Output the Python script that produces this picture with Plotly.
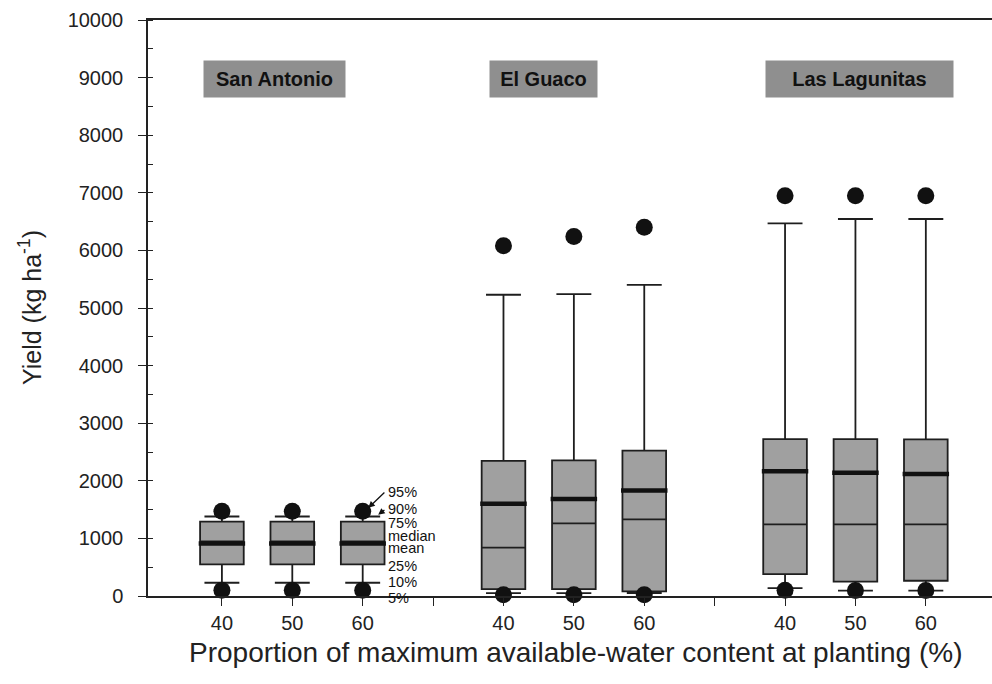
import plotly.graph_objects as go

# ---- data ----
sites = ["San Antonio", "El Guaco", "Las Lagunitas"]
water_levels = ["40", "50", "60"]
positions = [1, 2, 3, 5, 6, 7, 9, 10, 11]
p5 = [100, 100, 100, 20, 20, 20, 100, 95, 95]
p10 = [230, 230, 230, 50, 50, 50, 135, 95, 95]
p25 = [550, 550, 550, 120, 120, 80, 380, 250, 265]
median = [950, 950, 950, 840, 1260, 1330, 1245, 1245, 1245]
mean = [910, 910, 910, 1600, 1685, 1830, 2165, 2140, 2120]
p75 = [1290, 1290, 1290, 2345, 2355, 2525, 2725, 2725, 2720]
p90 = [1380, 1380, 1380, 5230, 5240, 5400, 6470, 6545, 6545]
p95 = [1470, 1470, 1470, 6080, 6240, 6400, 6950, 6950, 6950]
site_label_x = [1.75, 5.57, 10.06]
site_label_y = 8980
tick_vals = [1, 2, 3, 4, 5, 6, 7, 8, 9, 10, 11]
tick_text = ["40", "50", "60", "", "40", "50", "60", "", "40", "50", "60"]
legend_labels = ["95%", "90%", "75%", "median", "mean", "25%", "10%", "5%"]
legend_y = [1800, 1515, 1260, 1045, 830, 521, 240, 0]

BOX_W = 0.62
FONT = "Liberation Sans, Arial, sans-serif"

fig = go.Figure()

fig.add_trace(go.Box(
    x=positions, q1=p25, median=median, q3=p75,
    lowerfence=p10, upperfence=p90,
    width=BOX_W, whiskerwidth=0.8,
    fillcolor="#a0a0a0", line=dict(color="#1e1e1e", width=1.8),
    boxpoints=False, hoverinfo="skip", showlegend=False,
))

# thick mean lines
mx, my = [], []
for p, m in zip(positions, mean):
    mx += [p - BOX_W / 2 - 0.02, p + BOX_W / 2 + 0.02, None]
    my += [m, m, None]
fig.add_trace(go.Scatter(x=mx, y=my, mode="lines",
                         line=dict(color="#111111", width=4.5),
                         showlegend=False, hoverinfo="skip"))

# 5th / 95th percentile dots
fig.add_trace(go.Scatter(x=positions + positions, y=p95 + p5, mode="markers",
                         marker=dict(color="#111111", size=17),
                         cliponaxis=False, showlegend=False, hoverinfo="skip"))

annotations = []
for name, x in zip(sites, site_label_x):
    annotations.append(dict(
        x=x, y=site_label_y, xref="x", yref="y", text="<b>%s</b>" % name,
        showarrow=False, font=dict(family="Liberation Sans Narrow, Arial Narrow, Liberation Sans, Arial", size=20, color="#111111"),
        bgcolor="#8f8f8f", borderpad=2, height=32,
        width={"San Antonio": 137, "El Guaco": 103, "Las Lagunitas": 183}[name],
    ))

for lab, yv in zip(legend_labels, legend_y):
    annotations.append(dict(
        x=3.33, y=yv, xref="x", yref="y", text=lab, showarrow=False,
        xanchor="left", yanchor="middle", yshift=-2 if yv == 0 else 0,
        font=dict(family=FONT, size=14.5, color="#111111"),
    ))

# arrows to 95% dot and 90% whisker cap
annotations.append(dict(x=positions[2] + 0.08, y=p95[2] + 60, xref="x", yref="y",
                        ax=3.33, ay=legend_y[0] + 20, axref="x", ayref="y",
                        text="", showarrow=True, arrowhead=2, arrowsize=1,
                        arrowwidth=1.3, arrowcolor="#111111"))
annotations.append(dict(x=positions[2] + 0.22, y=p90[2] + 30, xref="x", yref="y",
                        ax=3.33, ay=legend_y[1], axref="x", ayref="y",
                        text="", showarrow=True, arrowhead=2, arrowsize=1,
                        arrowwidth=1.3, arrowcolor="#111111"))

# axis titles
annotations.append(dict(x=0, y=0.5, xref="paper", yref="paper", xshift=-118,
                        text="Yield (kg ha<sup>-1</sup>)", textangle=-90,
                        showarrow=False, xanchor="center", yanchor="middle",
                        font=dict(family=FONT, size=25, color="#222222")))
annotations.append(dict(x=0.506, y=0, xref="paper", yref="paper", yshift=-56,
                        text="Proportion of maximum available-water content at planting (%)",
                        showarrow=False, xanchor="center", yanchor="middle",
                        font=dict(family=FONT, size=28, color="#222222")))

fig.update_layout(
    width=992, height=684,
    margin=dict(l=148, r=0, t=20, b=88),
    paper_bgcolor="white", plot_bgcolor="white",
    font=dict(family=FONT, color="#222222"),
    annotations=annotations,
    xaxis=dict(range=[-0.05, 11.94], tickvals=tick_vals, ticktext=tick_text,
               ticks="outside", ticklen=8, tickwidth=1.3, tickcolor="#222222",
               showline=True, linecolor="#222222", linewidth=1.5, mirror=True,
               showgrid=False, zeroline=False,
               tickfont=dict(size=20, family=FONT)),
    yaxis=dict(range=[0, 10000], dtick=1000, tickformat="d", ticks="outside", ticklen=8,
               tickwidth=1.3, tickcolor="#222222", ticklabelstandoff=11,
               minor=dict(dtick=500, ticks="inside", ticklen=5, tickcolor="#222222"),
               showline=True, linecolor="#222222", linewidth=1.5,
               showgrid=False, zeroline=False,
               tickfont=dict(size=20, family=FONT)),
)

fig.write_html("out.html")
